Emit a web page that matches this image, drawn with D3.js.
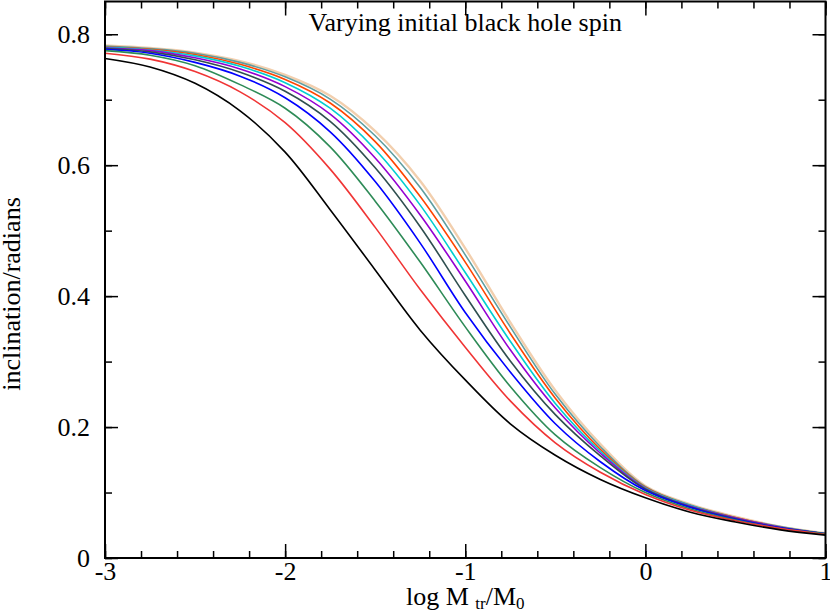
<!DOCTYPE html>
<html>
<head>
<meta charset="utf-8">
<script src="https://cdn.jsdelivr.net/npm/d3@7"></script>
<style>
  body { margin: 0; background: #fff; }
  svg { font-family: "Liberation Serif", "DejaVu Serif", serif; }
</style>
</head>
<body>
<svg id="chart" width="830" height="614"></svg>
<script>
// x grid: log M_tr / M_0
var logM = [-3, -2.75, -2.5, -2.25, -2, -1.75, -1.5, -1.25, -1, -0.75, -0.5, -0.25, 0, 0.25, 0.5, 0.75, 1];

// inclination (radians), one array per initial spin
var incBlack  = [0.763, 0.750, 0.725, 0.683, 0.620, 0.532, 0.440, 0.348, 0.272, 0.205, 0.157, 0.120, 0.092, 0.070, 0.055, 0.043, 0.035];
var incRed    = [0.771, 0.762, 0.743, 0.712, 0.665, 0.594, 0.505, 0.410, 0.322, 0.240, 0.176, 0.131, 0.097, 0.073, 0.057, 0.045, 0.036];
var incGreen  = [0.775, 0.768, 0.752, 0.723, 0.687, 0.628, 0.545, 0.452, 0.353, 0.262, 0.188, 0.138, 0.100, 0.075, 0.058, 0.045, 0.037];
var incBlue   = [0.777, 0.771, 0.757, 0.736, 0.703, 0.651, 0.575, 0.481, 0.375, 0.284, 0.205, 0.147, 0.103, 0.077, 0.059, 0.046, 0.037];
var incSlate  = [0.778, 0.773, 0.761, 0.742, 0.713, 0.667, 0.596, 0.506, 0.401, 0.301, 0.219, 0.156, 0.105, 0.078, 0.060, 0.046, 0.037];
var incViolet = [0.779, 0.775, 0.764, 0.747, 0.720, 0.678, 0.611, 0.524, 0.423, 0.318, 0.229, 0.160, 0.106, 0.079, 0.061, 0.047, 0.037];
var incCyan   = [0.780, 0.776, 0.767, 0.751, 0.726, 0.687, 0.624, 0.539, 0.436, 0.331, 0.236, 0.163, 0.107, 0.080, 0.061, 0.047, 0.037];
var incOrange = [0.781, 0.777, 0.769, 0.754, 0.731, 0.695, 0.636, 0.552, 0.452, 0.343, 0.244, 0.166, 0.108, 0.080, 0.062, 0.047, 0.037];
var incCadet  = [0.782, 0.778, 0.771, 0.757, 0.735, 0.701, 0.645, 0.566, 0.463, 0.353, 0.250, 0.170, 0.109, 0.081, 0.062, 0.048, 0.037];
var incPeach  = [0.783, 0.779, 0.772, 0.759, 0.738, 0.706, 0.652, 0.576, 0.473, 0.360, 0.256, 0.174, 0.110, 0.082, 0.063, 0.048, 0.038];

var xMajor = [-3, -2, -1, 0, 1];
var yMajor = [0, 0.2, 0.4, 0.6, 0.8];
var xTickLabels = ["-3", "-2", "-1", "0", "1"];
var yTickLabels = ["0", "0.2", "0.4", "0.6", "0.8"];

var series = [
  { vals: incPeach,  color: "#f2cfae", w: 2.4 },
  { vals: incCadet,  color: "#5f9ea0", w: 1.6 },
  { vals: incOrange, color: "#ff4500", w: 1.6 },
  { vals: incCyan,   color: "#00ced1", w: 1.6 },
  { vals: incViolet, color: "#9400d3", w: 1.6 },
  { vals: incSlate,  color: "#2f4f4f", w: 1.6 },
  { vals: incBlue,   color: "#0000ff", w: 1.6 },
  { vals: incGreen,  color: "#2e8b57", w: 1.6 },
  { vals: incRed,    color: "#f03535", w: 1.6 },
  { vals: incBlack,  color: "#000000", w: 1.6 }
];

var svg = d3.select("#chart");
var pLeft = 105, pRight = 825.5, pTop = 1.5, pBottom = 558;

var x = d3.scaleLinear().domain([-3, 1]).range([pLeft, pRight]);
var y = d3.scaleLinear().domain([0, 0.85]).range([pBottom, pTop]);

var fs = 26;

// minor ticks
var xMinor = d3.range(-3, 1.0001, 0.2);
var yMinor = d3.range(0, 0.85, 0.1);

function styleAxis(g){
  g.select(".domain").remove();
  g.selectAll("line").attr("stroke", "#000").attr("stroke-width", 1.5);
  g.selectAll("text").attr("font-size", fs).attr("fill", "#000")
    .attr("font-family", "Liberation Serif, serif");
}

svg.append("g").attr("transform", "translate(0," + pBottom + ")")
  .call(d3.axisBottom(x).tickValues(xMinor).tickSize(-7).tickFormat(""))
  .call(styleAxis);
svg.append("g").attr("transform", "translate(0," + pBottom + ")")
  .call(d3.axisBottom(x).tickValues(xMajor).tickSize(-14).tickPadding(4)
    .tickFormat(function(d, i){ return xTickLabels[i]; }))
  .call(styleAxis);
svg.append("g").attr("transform", "translate(0," + pTop + ")")
  .call(d3.axisTop(x).tickValues(xMinor).tickSize(-7).tickFormat(""))
  .call(styleAxis);
svg.append("g").attr("transform", "translate(0," + pTop + ")")
  .call(d3.axisTop(x).tickValues(xMajor).tickSize(-14).tickFormat(""))
  .call(styleAxis);

svg.append("g").attr("transform", "translate(" + pLeft + ",0)")
  .call(d3.axisLeft(y).tickValues(yMinor).tickSize(-7).tickFormat(""))
  .call(styleAxis);
svg.append("g").attr("transform", "translate(" + pLeft + ",0)")
  .call(d3.axisLeft(y).tickValues(yMajor).tickSize(-13).tickPadding(15)
    .tickFormat(function(d, i){ return yTickLabels[i]; }))
  .call(styleAxis);
svg.append("g").attr("transform", "translate(" + pRight + ",0)")
  .call(d3.axisRight(y).tickValues(yMinor).tickSize(-7).tickFormat(""))
  .call(styleAxis);
svg.append("g").attr("transform", "translate(" + pRight + ",0)")
  .call(d3.axisRight(y).tickValues(yMajor).tickSize(-13).tickFormat(""))
  .call(styleAxis);

// curves
var line = d3.line()
  .x(function(d, i){ return x(logM[i]); })
  .y(function(d){ return y(d); })
  .curve(d3.curveCatmullRom.alpha(0.5));

svg.append("g").selectAll("path").data(series).enter().append("path")
  .attr("d", function(s){ return line(s.vals); })
  .attr("fill", "none")
  .attr("stroke", function(s){ return s.color; })
  .attr("stroke-width", function(s){ return s.w; });

// frame
svg.append("rect")
  .attr("x", pLeft).attr("y", pTop)
  .attr("width", pRight - pLeft).attr("height", pBottom - pTop)
  .attr("fill", "none").attr("stroke", "#000").attr("stroke-width", 2);

// title
svg.append("text")
  .attr("x", (pLeft + pRight) / 2).attr("y", 31)
  .attr("text-anchor", "middle").attr("font-size", fs)
  .text("Varying initial black hole spin");

// x label
var xl = svg.append("text")
  .attr("x", (pLeft + pRight) / 2).attr("y", 605)
  .attr("text-anchor", "middle").attr("font-size", fs);
xl.append("tspan").text("log M ");
xl.append("tspan").attr("font-size", 17).attr("dy", 4).text("tr");
xl.append("tspan").attr("dy", -4).text("/M");
xl.append("tspan").attr("font-size", 17).attr("dy", 4).text("0");

// y label
svg.append("text")
  .attr("transform", "translate(20,294) rotate(-90)")
  .attr("text-anchor", "middle").attr("font-size", fs)
  .text("inclination/radians");
</script>
</body>
</html>
